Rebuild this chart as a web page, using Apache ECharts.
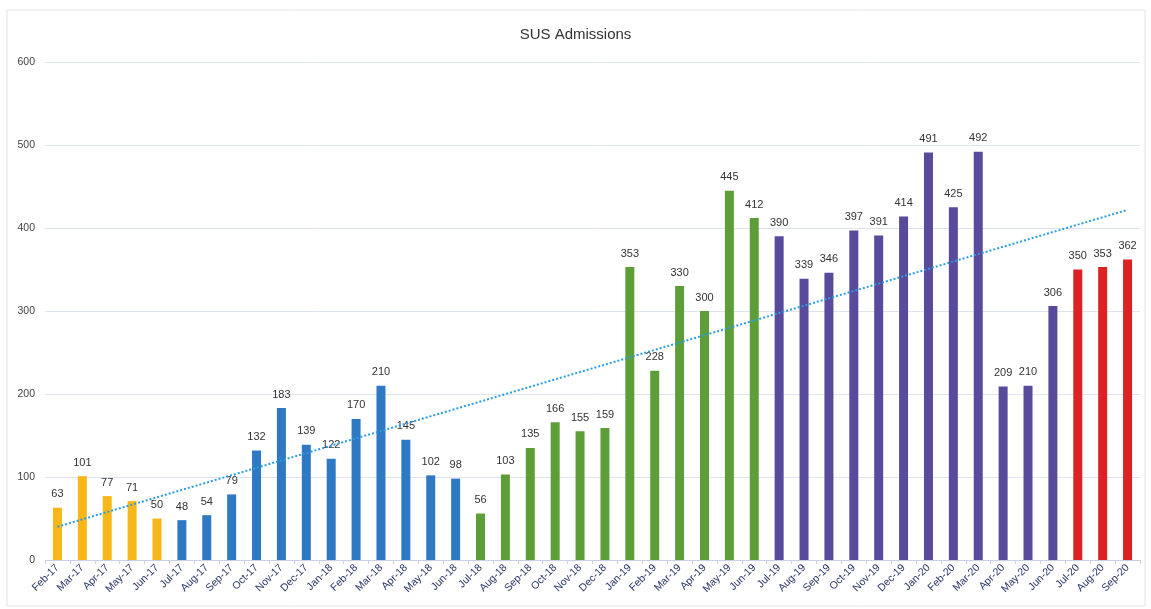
<!DOCTYPE html>
<html>
<head>
<meta charset="utf-8">
<script src="https://cdn.jsdelivr.net/npm/echarts@6/dist/echarts.min.js"></script>
<style>
html,body{margin:0;padding:0;background:#fff;}
#c{width:1151px;height:609px;}
</style>
</head>
<body>
<div id="c"></div>
<script>
const categories = ["Feb-17","Mar-17","Apr-17","May-17","Jun-17","Jul-17","Aug-17","Sep-17","Oct-17","Nov-17","Dec-17","Jan-18","Feb-18","Mar-18","Apr-18","May-18","Jun-18","Jul-18","Aug-18","Sep-18","Oct-18","Nov-18","Dec-18","Jan-19","Feb-19","Mar-19","Apr-19","May-19","Jun-19","Jul-19","Aug-19","Sep-19","Oct-19","Nov-19","Dec-19","Jan-20","Feb-20","Mar-20","Apr-20","May-20","Jun-20","Jul-20","Aug-20","Sep-20"];
const admissions = [63,101,77,71,50,48,54,79,132,183,139,122,170,210,145,102,98,56,103,135,166,155,159,353,228,330,300,445,412,390,339,346,397,391,414,491,425,492,209,210,306,350,353,362];
const yTicks = [0,100,200,300,400,500,600];

// colour per July-June year
const yearColors = {16:'#F7B718',17:'#2F78C4',18:'#5E9E38',19:'#5A4A9C',20:'#DD2222'};
const months = ['Jan','Feb','Mar','Apr','May','Jun','Jul','Aug','Sep','Oct','Nov','Dec'];
function groupOf(cat){
  const [m,y] = cat.split('-');
  const mi = months.indexOf(m);
  return mi >= 6 ? +y : (+y) - 1;
}

// linear trend (least squares) over the data
const n = admissions.length;
const mx = (n-1)/2;
const my = admissions.reduce((a,b)=>a+b,0)/n;
let sxy=0, sxx=0;
admissions.forEach((v,i)=>{sxy+=(i-mx)*(v-my); sxx+=(i-mx)*(i-mx);});
const slope = sxy/sxx, icpt = my - slope*mx;
const trend = admissions.map((v,i)=>+(icpt+slope*i).toFixed(2));

const chart = echarts.init(document.getElementById('c'));
chart.setOption({
  backgroundColor:'#fff',
  animation:false,
  title:{text:'SUS Admissions',left:'center',top:22,textStyle:{fontFamily:'Liberation Sans, Arial',fontSize:15,fontWeight:'normal',color:'#333'}},
  graphic:[{type:'rect',shape:{x:7,y:10,width:1138,height:596},style:{fill:'none',stroke:'#e4e4ea',lineWidth:1},silent:true}],
  grid:{left:45,right:11,top:62,bottom:49,containLabel:false},
  xAxis:{
    type:'category',data:categories,
    axisLine:{lineStyle:{color:'#c9cfe6'}},
    axisTick:{show:true,lineStyle:{color:'#c9cfe6'},length:4},
    axisLabel:{rotate:45,interval:0,fontSize:10.5,color:'#2a3566',fontFamily:'Liberation Sans, Arial',margin:6}
  },
  yAxis:{
    type:'value',min:yTicks[0],max:yTicks[yTicks.length-1],interval:100,
    axisLine:{show:false},axisTick:{show:false},
    axisLabel:{fontSize:10.5,color:'#444',fontFamily:'Liberation Sans, Arial',margin:10},
    splitLine:{lineStyle:{color:'#dfe3f0'}}
  },
  series:[
    {type:'bar',barWidth:9,
     data:admissions.map((v,i)=>({value:v,itemStyle:{color:yearColors[groupOf(categories[i])]}})),
     label:{show:true,position:'top',distance:8,fontSize:11,color:'#333',fontFamily:'Liberation Sans, Arial'}
    },
    {type:'line',data:trend,symbol:'none',z:5,
     lineStyle:{color:'#2b9de0',width:2,type:[2,2]}}
  ]
});
</script>
</body>
</html>
